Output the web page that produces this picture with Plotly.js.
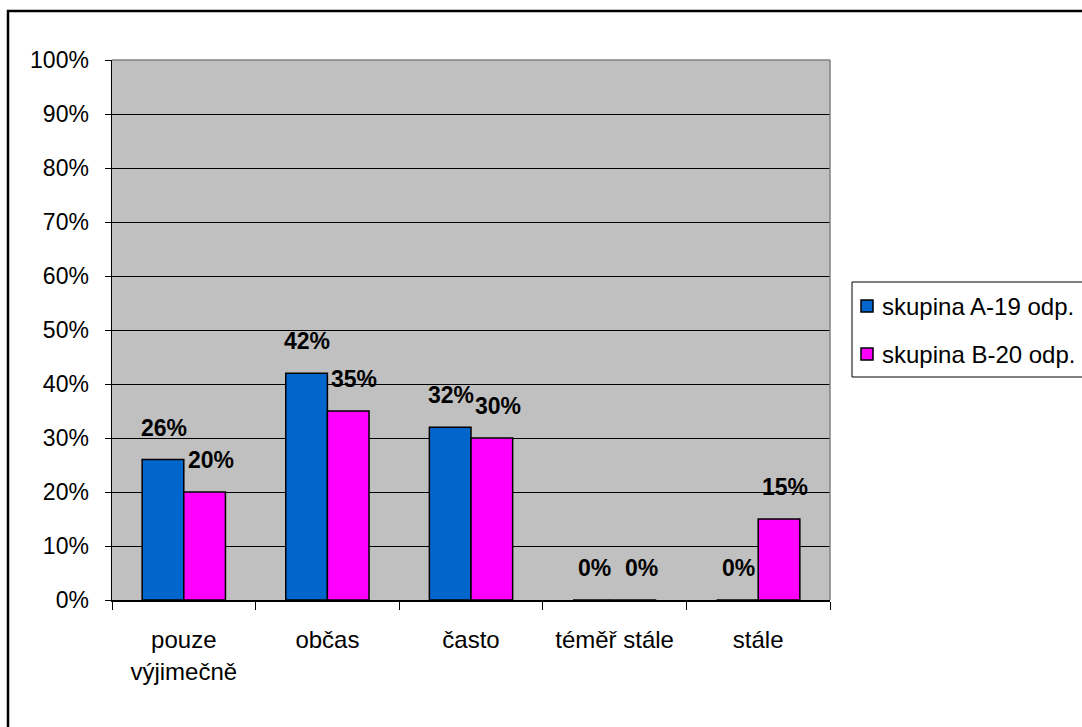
<!DOCTYPE html>
<html>
<head>
<meta charset="utf-8">
<script src="https://cdn.plot.ly/plotly-3.0.1.min.js"></script>
<style>
  html, body { margin: 0; padding: 0; background: #ffffff; }
  #chart { width: 1082px; height: 727px; }
</style>
</head>
<body>
<div id="chart"></div>
<script>
// Categories of answers and share of respondents (%) per group
const categories = ['pouze<br>výjimečně', 'občas', 'často', 'téměř stále', 'stále'];
const seriesNames = ['skupina A-19 odp.', 'skupina B-20 odp.'];
const groupA = [26, 42, 32, 0, 0];
const groupB = [20, 35, 30, 0, 15];
const yTicks = [0, 10, 20, 30, 40, 50, 60, 70, 80, 90, 100];

const colors = ['#0066CC', '#FF00FF'];
const series = [groupA, groupB];
const FONT = 'Liberation Sans, Arial, sans-serif';

// Plot area in pixels
const L = 112, R = 830, T = 60, B = 600;
const W = 1082, H = 727;
const px = x => (x - L) / (R - L);
const py = y => (B - y) / (B - T);

const traces = series.map((vals, s) => ({
  type: 'bar',
  name: seriesNames[s],
  x: categories,
  y: vals,
  marker: { color: colors[s], line: { color: '#000000', width: 1.5 } },
  showlegend: false,
  hoverinfo: 'x+y'
}));

// Value labels above each bar
const annotations = [];
const shifts = [-20, 27];
series.forEach((vals, s) => {
  vals.forEach((v, i) => {
    annotations.push({
      x: categories[i], y: v, xref: 'x', yref: 'y',
      text: v + '%', showarrow: false,
      xshift: shifts[s], yshift: 32,
      font: { family: FONT, size: 23, color: '#000000', weight: 'bold' }
    });
  });
});

const shapes = [
  // outer frame
  { type: 'rect', xref: 'paper', yref: 'paper',
    x0: px(8), x1: px(1095), y0: py(740), y1: py(11),
    line: { color: '#000000', width: 2.5 }, fillcolor: 'rgba(0,0,0,0)' },
  // plot area top and right border
  { type: 'line', xref: 'paper', yref: 'paper', x0: 0, x1: 1, y0: 1, y1: 1,
    line: { color: '#808080', width: 1.5 } },
  { type: 'line', xref: 'paper', yref: 'paper', x0: 1, x1: 1, y0: 0, y1: 1,
    line: { color: '#808080', width: 1.5 } },
  // legend box
  { type: 'rect', xref: 'paper', yref: 'paper',
    x0: px(852), x1: px(1095), y0: py(377), y1: py(282),
    line: { color: '#000000', width: 1 }, fillcolor: '#ffffff', layer: 'below' }
];

// Boxed key on the right
const legendRows = [306, 354];
seriesNames.forEach((name, s) => {
  const cy = legendRows[s];
  shapes.push({ type: 'rect', xref: 'paper', yref: 'paper',
    x0: px(861), x1: px(873), y0: py(cy + 6), y1: py(cy - 6),
    line: { color: '#000000', width: 1.5 }, fillcolor: colors[s] });
  annotations.push({ xref: 'paper', yref: 'paper', x: px(880), y: py(cy),
    xanchor: 'left', yanchor: 'middle', showarrow: false, text: name,
    font: { family: FONT, size: 24, color: '#000000' } });
});

const layout = {
  width: W, height: H,
  margin: { l: L, r: W - R, t: T, b: H - B, pad: 0 },
  paper_bgcolor: '#ffffff',
  plot_bgcolor: '#C0C0C0',
  barmode: 'group',
  bargap: 0.42,
  bargroupgap: 0,
  font: { family: FONT, size: 23, color: '#000000' },
  xaxis: {
    type: 'category',
    tickson: 'boundaries',
    ticks: 'outside', ticklen: 8, tickcolor: '#000000', tickwidth: 1,
    showline: true, linecolor: '#000000', linewidth: 1.5,
    showgrid: false,
    ticklabelstandoff: 18,
    tickfont: { family: FONT, size: 24, color: '#000000' }
  },
  yaxis: {
    range: [0, 100],
    tickvals: yTicks,
    ticktext: yTicks.map(v => v + '%'),
    ticks: 'outside', ticklen: 6, tickcolor: '#000000', tickwidth: 1,
    showline: true, linecolor: '#000000', linewidth: 1.5,
    showgrid: true, gridcolor: '#000000', gridwidth: 1,
    zeroline: false,
    ticklabelstandoff: 11,
    tickfont: { family: FONT, size: 23, color: '#000000' },
    fixedrange: true
  },
  shapes: shapes,
  annotations: annotations
};

Plotly.newPlot('chart', traces, layout, { displayModeBar: false, staticPlot: true });
</script>
</body>
</html>
